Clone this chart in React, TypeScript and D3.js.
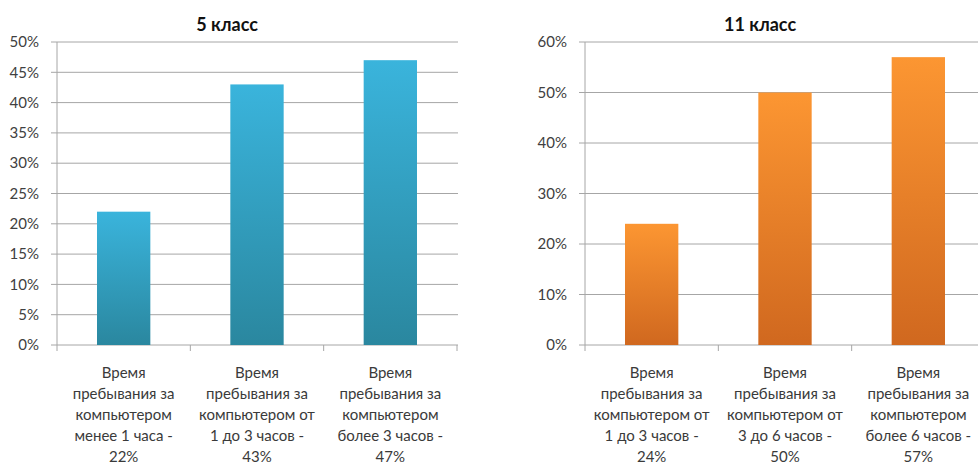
import React from "react";
import * as d3 from "d3";

const titles5 = "5 класс";
const categories5 = [
  ["Время", "пребывания за", "компьютером", "менее 1 часа -", "22%"],
  ["Время", "пребывания за", "компьютером от", "1 до 3 часов -", "43%"],
  ["Время", "пребывания за", "компьютером", "более 3 часов -", "47%"],
];
const values5 = [0.22, 0.43, 0.47];
const ticks5 = [0, 0.05, 0.1, 0.15, 0.2, 0.25, 0.3, 0.35, 0.4, 0.45, 0.5];

const titles11 = "11 класс";
const categories11 = [
  ["Время", "пребывания за", "компьютером от", "1 до 3 часов -", "24%"],
  ["Время", "пребывания за", "компьютером от", "3 до 6 часов -", "50%"],
  ["Время", "пребывания за", "компьютером", "более 6 часов -", "57%"],
];
const values11 = [0.24, 0.5, 0.57];
const ticks11 = [0, 0.1, 0.2, 0.3, 0.4, 0.5, 0.6];

const FONT = "Lato, 'Open Sans', sans-serif";

type PanelProps = {
  x0: number;
  title: string;
  titleX: number;
  cats: string[][];
  vals: number[];
  ticks: number[];
  max: number;
  gradId: string;
  top: string;
  bottom: string;
};

function Panel({ x0, title, titleX, cats, vals, ticks, max, gradId, top, bottom }: PanelProps) {
  const plotTop = 42;
  const plotBottom = 345;
  const width = 400;
  const x = d3.scaleBand<number>().domain(d3.range(cats.length)).range([x0, x0 + width]).paddingInner(0.6).paddingOuter(0.3);
  const xb = d3.scaleBand<number>().domain(d3.range(cats.length)).range([x0, x0 + width]);
  const y = d3.scaleLinear().domain([0, max]).range([plotBottom, plotTop]);
  const fmt = d3.format(".0%");
  return (
    <g>
      <defs>
        <linearGradient id={gradId} x1="0" y1="0" x2="0" y2="1">
          <stop offset="0" stopColor={top} />
          <stop offset="1" stopColor={bottom} />
        </linearGradient>
      </defs>
      <text x={titleX} y={31} textAnchor="middle" fontFamily={FONT} fontWeight="bold" fontSize={18} fill="#111">
        {title}
      </text>
      {ticks.map((t) => (
        <g key={t}>
          <line x1={x0 - 6} x2={x0 + width + 1} y1={y(t)} y2={y(t)} stroke="#a6a6a6" strokeWidth={1} />
          <text x={x0 - 18} y={y(t)} dy="0.35em" textAnchor="end" fontFamily={FONT} fontSize={15} fill="#404040">
            {fmt(t)}
          </text>
        </g>
      ))}
      <line x1={x0} x2={x0} y1={plotTop} y2={plotBottom} stroke="#a6a6a6" />
      {d3.range(cats.length + 1).map((i) => {
        const xx = i < cats.length ? (xb(i) as number) : x0 + width;
        return <line key={i} x1={xx} x2={xx} y1={plotBottom} y2={plotBottom + 6} stroke="#a6a6a6" />;
      })}
      {vals.map((v, i) => (
        <rect key={i} x={x(i)} y={y(v)} width={x.bandwidth()} height={plotBottom - y(v)} fill={`url(#${gradId})`} />
      ))}
      {cats.map((lines, i) => (
        <text key={i} textAnchor="middle" fontFamily={FONT} fontSize={15} fill="#3a3a3a">
          {lines.map((l, j) => (
            <tspan key={j} x={(xb(i) as number) + xb.bandwidth() / 2} y={378 + j * 21}>
              {l}
            </tspan>
          ))}
        </text>
      ))}
    </g>
  );
}

export default function App() {
  return (
    <svg width={978} height={467} style={{ position: "absolute", left: 0, top: 0, background: "#fff" }}>
      <rect width={978} height={467} fill="#fff" />
      <Panel x0={57} title={titles5} titleX={227} cats={categories5} vals={values5} ticks={ticks5} max={0.5} gradId="gBlue" top="#3ab4dc" bottom="#2a879f" />
      <Panel x0={585} title={titles11} titleX={760} cats={categories11} vals={values11} ticks={ticks11} max={0.6} gradId="gOrange" top="#fc9632" bottom="#d0681f" />
    </svg>
  );
}
